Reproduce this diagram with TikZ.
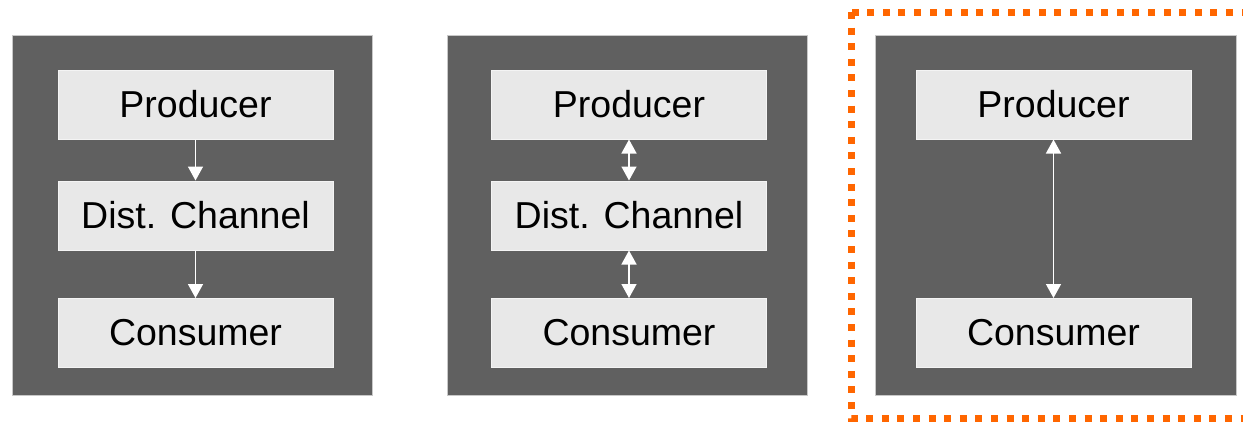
\documentclass[tikz,border=0pt]{standalone}
\usepackage{fontspec}
\setmainfont{Liberation Sans}
\usetikzlibrary{arrows.meta}
\definecolor{panelgray}{HTML}{606060}
\definecolor{panelborder}{HTML}{C8C8C8}
\definecolor{boxfill}{HTML}{E8E8E8}
\definecolor{boxborder}{HTML}{F4F4F4}
\definecolor{dotorange}{HTML}{FF6600}
\tikzset{
  panel/.style={draw=panelborder, fill=panelgray, line width=1pt, minimum width=360pt, minimum height=360pt, inner sep=0pt},
  stagebox/.style={draw=boxborder, fill=boxfill, line width=1pt, minimum width=275pt, minimum height=69pt, inner sep=0pt, font=\fontsize{37.5}{40}\selectfont, text=black},
  flow/.style={draw=white, line width=1.5pt, -{Triangle[width=15pt,length=14pt]}},
  twoway/.style={draw=white, line width=1.5pt, {Triangle[width=15pt,length=14pt]}-{Triangle[width=15pt,length=14pt]}},
  highlight/.style={draw=dotorange, line width=7pt, dash pattern=on 7pt off 8.6pt}
}
\begin{document}
\begin{tikzpicture}[x=1pt,y=-1pt]
\useasboundingbox (0,0) rectangle (1243,421);
\clip (0,0) rectangle (1243,421);
\fill[white] (0,0) rectangle (1243,421);
% panel 1
\node[panel] (p1) at (192,215) {};
\node[stagebox] (prod1) at (195.5,104.5) {Producer};
\node[stagebox] (dist1) at (195.5,215.5) {Dist. Channel};
\node[stagebox] (cons1) at (195.5,333) {Consumer};
\draw[flow] (prod1.south) -- (dist1.north);
\draw[flow] (dist1.south) -- (cons1.north);
% panel 2
\node[panel] (p2) at (627,215) {};
\node[stagebox] (prod2) at (629,104.5) {Producer};
\node[stagebox] (dist2) at (629,215.5) {Dist. Channel};
\node[stagebox] (cons2) at (629,333) {Consumer};
\draw[twoway] (prod2.south) -- (dist2.north);
\draw[twoway] (dist2.south) -- (cons2.north);
% panel 3
\node[panel, minimum width=361pt] (p3) at (1055.5,215) {};
\node[stagebox] (prod3) at (1053.5,104.5) {Producer};
\node[stagebox] (cons3) at (1053.5,333) {Consumer};
\draw[twoway] (prod3.south) -- (cons3.north);
% orange dotted highlight
\coordinate (hlA) at (851,12);
\coordinate (hlB) at (1260,418);
\draw[highlight] (hlA) rectangle (hlB);
\end{tikzpicture}
\end{document}
